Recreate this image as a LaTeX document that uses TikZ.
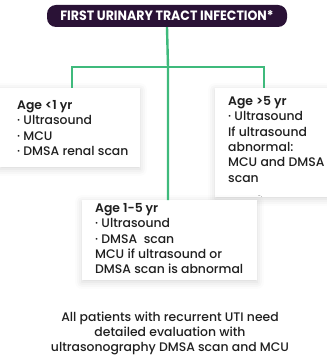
\documentclass[tikz,border=0pt]{standalone}
\usepackage{fontspec}
\setmainfont{Poppins}[UprightFont=* Medium, BoldFont=* SemiBold]
\newfontfamily\titlefont{Poppins}[UprightFont=* Bold, FakeStretch=0.93]
\usetikzlibrary{positioning, calc, backgrounds, shadows.blur}

\definecolor{titlepurple}{HTML}{2A1236}
\definecolor{treegreen}{HTML}{3FBA7C}

\begin{document}
\begin{tikzpicture}[
  x=1pt, y=-1pt,
  font=\fontsize{12.4}{15.4}\selectfont,
  header/.style={
    fill=titlepurple, text=white, rounded corners=9pt,
    minimum width=240pt, minimum height=22pt, inner sep=0pt,
    font=\titlefont\fontsize{13.5}{13.5}\selectfont
  },
  card/.style={anchor=north west, align=left, inner sep=0pt, text=black!88},
  cardbg/.style={
    fill=white,
    blur shadow={shadow xshift=0pt, shadow yshift=-2pt,
      shadow blur radius=7pt, shadow opacity=16}
  },
  branch/.style={draw=treegreen, line width=2.4pt},
]

\useasboundingbox (0,0) rectangle (326,358);

\node[header] (title) at (167,16) {FIRST URINARY TRACT INFECTION*};

\node[card] (under) at (17,100)
  {\textbf{Age <1 yr}\\· Ultrasound\\· MCU\\· DMSA renal scan};
\node[card] (over) at (228,96)
  {\textbf{Age >5 yr}\\· Ultrasound\\If ultrasound\\abnormal:\\MCU and DMSA\\scan};
\node[card] (mid) at (95,203)
  {\textbf{Age 1-5 yr}\\· Ultrasound\\· DMSA\ \ scan\\MCU if ultrasound or\\DMSA scan is abnormal};

\node[align=center, inner sep=0pt, text=black!88] (note) at (170,333.5)
  {All patients with recurrent UTI need\\detailed evaluation with\\ultrasonography DMSA scan and MCU};

% white cards behind the text
\begin{scope}[on background layer]
\path[cardbg] (0,88) rectangle (140,167);
\path[cardbg] (215,88) rectangle (340,197);
\path[cardbg] (82,200) rectangle (257,280);
\end{scope}

\coordinate (split) at (168,67);
\coordinate (undertop) at (72,88);
\coordinate (overtop) at (264,88);
\coordinate (midtop) at (168,200);

\draw[branch] (title.south) -- (split) -- (midtop);
\draw[branch] (split) -| (undertop);
\draw[branch] (split) -| (overtop);

\end{tikzpicture}
\end{document}
